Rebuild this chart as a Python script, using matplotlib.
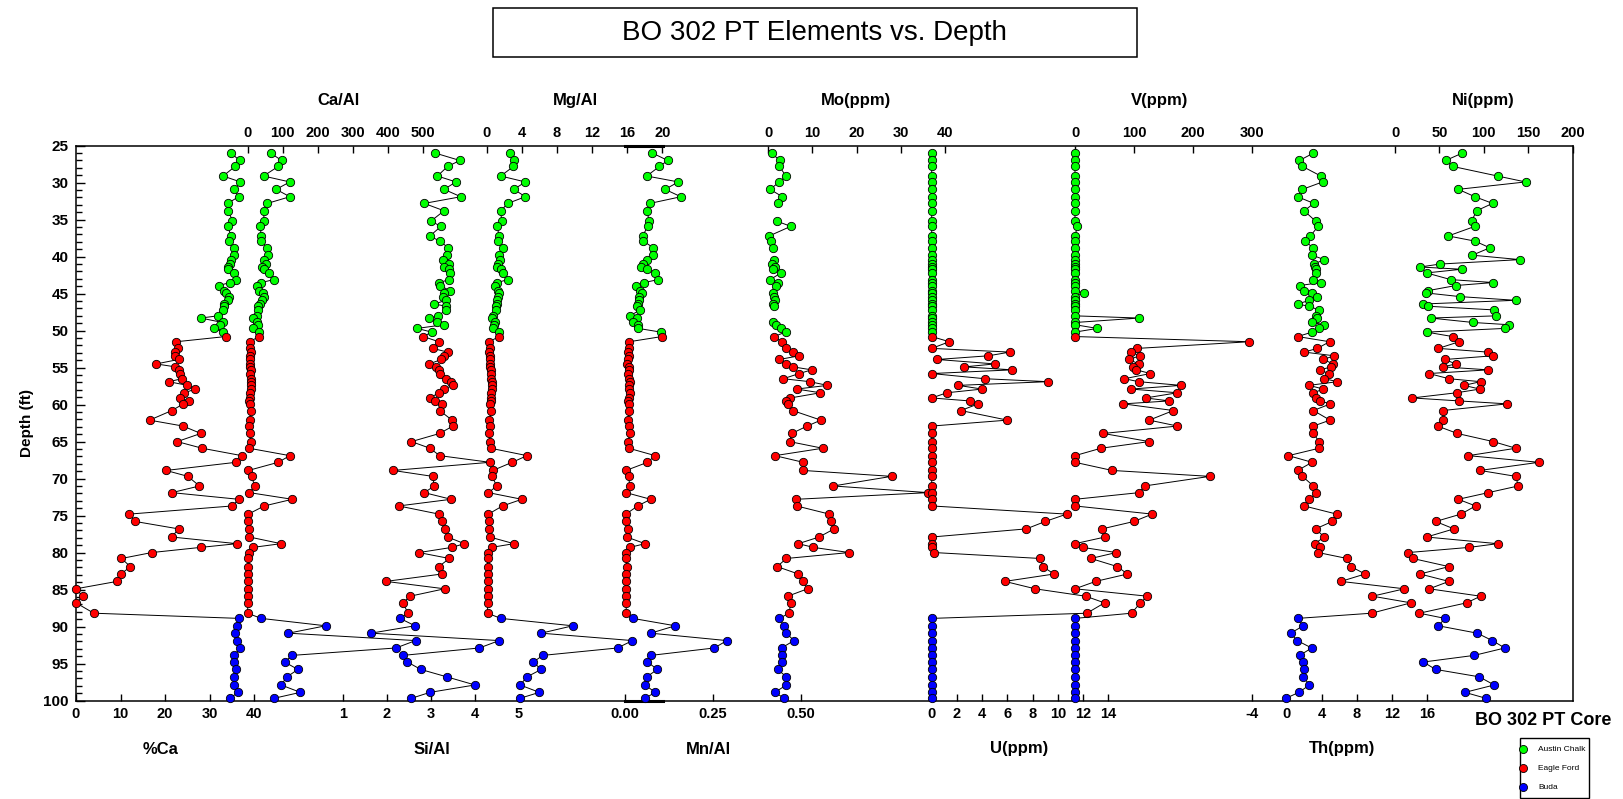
import numpy as np
import matplotlib
matplotlib.use("Agg")
import matplotlib.pyplot as plt
from matplotlib.patches import Rectangle
from matplotlib.lines import Line2D
from matplotlib.ticker import MultipleLocator, FixedLocator, FormatStrFormatter

plt.rcParams['font.family'] = ['Liberation Sans', 'DejaVu Sans']
plt.rcParams['font.weight'] = 'bold'

nan = np.nan

# ---------------------------------------------------------------- sample depths (ft)
depth_austin = [26.0, 27.0, 27.8, 29.1, 29.9, 30.9, 31.9, 32.8, 33.8, 35.2, 35.9, 37.2,
                37.9, 38.8, 39.8, 40.4, 41.0, 41.4, 41.7, 42.2, 43.1, 43.5, 43.9, 44.6,
                44.9, 45.4, 45.9, 46.4, 46.7, 47.2, 48.0, 48.3, 48.9, 49.2, 49.7, 50.2]
depth_eagle = [50.8, 51.5, 52.4, 52.9, 53.4, 53.9, 54.5, 54.9, 55.3, 55.8, 56.5, 56.9,
               57.4, 57.9, 58.4, 59.1, 59.5, 59.9, 60.8, 62.1, 62.9, 63.9, 65.0, 65.9,
               66.9, 67.8, 68.9, 69.7, 71.0, 71.9, 72.8, 73.7, 74.8, 75.8, 76.8, 77.9,
               78.8, 79.3, 80.0, 80.8, 81.9, 82.9, 83.9, 84.9, 85.9, 86.8, 88.2]
depth_buda = [88.9, 89.9, 90.9, 91.9, 92.9, 93.9, 94.8, 95.8, 96.8, 97.9, 98.9, 99.7]

# ---------------------------------------------------------------- %Ca
ca_pct_austin = [34.8, 36.7, 35.7, 33.0, 36.9, 35.5, 36.5, 34.0, 34.2, 35.1, 34.0, 34.8,
                 34.3, 35.4, 35.5, 34.8, 34.6, 34.2, 34.0, 35.4, 36.0, 34.6, 32.0, 33.1,
                 33.7, 34.3, 34.2, 33.3, 33.1, 32.9, 31.8, 28.0, 32.9, 32.4, 31.0, 33.0]
ca_pct_eagle = [33.6, 22.5, 22.8, 22.1, 22.3, 23.0, 18.0, 22.3, 23.2, 23.4, 23.8, 20.8,
                25.0, 26.8, 24.3, 23.4, 25.3, 24.1, 21.5, 16.5, 24.0, 28.0, 22.7, 28.3,
                37.2, 35.9, 20.2, 25.1, 27.7, 21.5, 36.5, 35.1, 12.0, 13.3, 23.0, 21.5,
                36.1, 28.0, 17.0, 10.2, 12.2, 10.1, 9.2, 0.0, 1.5, 0.0, 4.0]
ca_pct_buda = [36.6, 36.1, 35.7, 36.1, 36.9, 35.4, 35.4, 35.9, 35.5, 35.4, 36.3, 34.6]

# ---------------------------------------------------------------- Ca/Al
ca_al_austin = [65, 97, 87, 45, 120, 81, 120, 56, 45, 47, 35, 39, 37, 56, 58, 46, 51, 40,
                45, 62, 75, 38, 26, 33, 43, 47, 42, 35, 30, 30, 26, 16, 26, 30, 16, 33]
ca_al_eagle = [32, 6, 7, 8, 7, 6, 7, 6, 8, 7, 9, 10, 9, 8, 7, 6, 5, 7, 8, 6, 5, 6, 8, 4,
               120, 87, 2, 11, 20, 5, 127, 47, 2, 0, 5, 5, 95, 15, 3, 2, 2, 1, 1, 0, 1, 0, 0]
ca_al_buda = [38, 222, 116, 478, 422, 127, 105, 143, 112, 95, 150, 75]

# ---------------------------------------------------------------- Si/Al
si_al_austin = [3.10, 3.66, 3.38, 3.15, 3.57, 3.30, 3.68, 2.85, 3.30, 3.00, 3.23, 2.98,
                3.20, 3.40, 3.36, 3.28, 3.42, 3.30, 3.42, 3.44, 3.42, 3.19, 3.20, 3.44,
                3.30, 3.27, 3.34, 3.08, 3.34, 3.34, 3.17, 2.95, 3.15, 3.30, 2.69, 3.02]
si_al_eagle = [2.83, 3.18, 3.04, 3.38, 3.30, 3.24, 2.96, 3.11, 3.18, 3.20, 3.35, 3.45,
               3.50, 3.30, 3.18, 2.98, 3.10, 3.25, 3.20, 3.48, 3.50, 3.20, 2.56, 2.98,
               3.20, 4.34, 2.14, 3.04, 3.08, 2.85, 3.46, 2.27, 3.18, 3.25, 3.33, 3.38,
               3.76, 3.48, 2.73, 3.42, 3.18, 3.25, 1.98, 3.31, 2.53, 2.37, 2.48]
si_al_buda = [2.30, 2.64, 1.64, 4.55, 4.10, 2.37, 2.47, 2.77, 3.36, 4.00, 2.98, 2.56]

# ---------------------------------------------------------------- Mg/Al
mg_al_austin = [2.6, 3.1, 3.05, 1.6, 4.4, 3.1, 4.4, 2.4, 1.6, 1.7, 1.2, 1.4, 1.3, 1.9,
                1.4, 1.5, 1.3, 1.2, 1.6, 1.9, 2.4, 1.2, 0.95, 1.3, 1.4, 1.3, 1.15, 1.2,
                1.1, 1.05, 0.75, 0.55, 0.95, 0.8, 0.7, 1.45]
mg_al_eagle = [1.4, 0.3, 0.35, 0.3, 0.4, 0.35, 0.4, 0.35, 0.5, 0.45, 0.5, 0.55, 0.6, 0.6,
               0.5, 0.45, 0.5, 0.4, 0.5, 0.3, 0.4, 0.3, 0.35, 0.45, 4.6, 2.9, 0.7, 0.6,
               1.15, 0.2, 4.0, 1.8, 0.2, 0.3, 0.3, 0.35, 3.1, 0.55, 0.2, 0.1, 0.1, 0.1,
               0.1, 0.1, 0.1, 0.1, 0.1]
mg_al_buda = [1.6, 9.8, 6.2, 16.6, 14.9, 6.4, 5.3, 6.2, 4.6, 3.8, 6.0, 3.8]

# ---------------------------------------------------------------- Mn/Al
mn_al_austin = [0.078, 0.122, 0.098, 0.062, 0.152, 0.114, 0.159, 0.071, 0.062, 0.069,
                0.065, 0.050, 0.052, 0.081, 0.080, 0.062, 0.050, 0.045, 0.062, 0.086,
                0.095, 0.054, 0.031, 0.043, 0.048, 0.041, 0.040, 0.036, 0.033, 0.043,
                0.014, 0.033, 0.024, 0.038, 0.038, 0.102]
mn_al_eagle = [0.105, 0.012, 0.010, 0.008, 0.011, 0.009, 0.007, 0.010, 0.012, 0.009,
               0.011, 0.013, 0.010, 0.012, 0.014, 0.011, 0.009, 0.010, 0.012, 0.008,
               0.010, 0.013, 0.009, 0.011, 0.086, 0.064, 0.003, 0.010, 0.014, 0.003,
               0.073, 0.036, 0.003, 0.004, 0.008, 0.005, 0.057, 0.014, 0.004, 0.003,
               0.005, 0.004, 0.003, 0.004, 0.003, 0.004, 0.003]
mn_al_buda = [0.022, 0.143, 0.073, 0.290, 0.254, 0.074, 0.064, 0.092, 0.062, 0.057,
              0.086, 0.057]

# ---------------------------------------------------------------- Mo (ppm)
mo_austin = [0.75, 2.6, 2.5, 4.0, 2.5, 0.4, 3.2, 2.3, nan, 1.9, 5.1, 0.2, 0.5, 1.0, nan,
             1.3, 0.9, 1.5, 1.1, 2.9, 0.4, 2.3, 1.7, nan, 1.0, 1.2, 1.5, 1.1, 1.3, nan,
             nan, nan, 1.0, 1.8, 2.8, 3.9]
mo_eagle = [1.3, 3.0, 4.0, 5.5, 7.0, 2.5, 4.1, 5.6, 9.8, 7.0, 3.4, 9.4, 13.4, 6.4, 11.8,
            5.0, 4.1, 4.5, 5.5, 11.9, 8.8, 5.3, 4.8, 12.3, 1.5, 7.9, 7.9, 27.9, 14.7,
            36.2, 6.3, 6.4, 13.8, 14.1, 14.9, 11.5, 6.8, 10.2, 18.3, 4.1, 2.0, 6.8, 7.9,
            8.9, 4.4, 5.1, 4.7]
mo_buda = [2.5, 3.5, 4.1, 5.8, 3.0, 3.0, 3.2, 2.1, 4.1, 4.1, 1.5, 3.6]

# ---------------------------------------------------------------- U (ppm)
u_austin = [0.0] * 36
u_eagle = [0, 1.4, 0, 6.2, 4.5, 0.45, 5.0, 2.6, 6.4, 0, 4.2, 9.2, 2.1, 4.0, 1.2, 0, 3.0,
           3.7, 2.3, 6.0, 0, 0, 0, 0, 0, 0, 0, 0, 0, 0, 0, 0, 10.7, 9.0, 7.5, 0, 0, 0,
           0.2, 8.6, 8.8, 9.7, 5.8, 8.2, 12.2, 13.7, 12.3]
u_buda = [0.0] * 12

# ---------------------------------------------------------------- V (ppm)
v_austin = [0, 0, 0, 0, 0, 0, 0, 0, 0, 0, 4, 0, 0, 0, 0, 0, 0, 0, 0, 0, 0, 0, 0, 0,
            15, 0, 0, 0, 0, 0, 0, 109, 0, 0, 38, 0]
v_eagle = [0, 296, 106, 95, 110, 92, 108, 99, 104, 128, 84, 108, 180, 95, 174, 120, 160,
           82, 167, 126, 174, 48, 126, 44, 0, 0, 63, 229, 118, 109, 0, 0, 131, 100, 46,
           51, 0, 13, 70, 27, 72, 89, 35, 0, 123, 111, 96]
v_buda = [0.0] * 12

# ---------------------------------------------------------------- Th (ppm)
th_austin = [3.05, 1.45, 1.8, 3.9, 4.1, 1.8, 1.25, 3.1, 2.0, 3.3, 3.6, 2.7, 2.1, 3.0,
             2.9, 4.3, 3.1, 3.2, 3.3, 3.3, 3.05, 3.9, 1.5, 2.0, 2.9, 3.5, 2.6, 1.25,
             2.5, 3.7, 3.35, 3.5, 2.9, 4.3, 3.7, 2.9]
th_eagle = [1.25, 4.9, 3.5, 2.0, 5.4, 4.2, 5.3, 5.1, 3.8, 4.8, 4.3, 5.8, 2.55, 4.2, 3.05,
            3.4, 3.8, 5.0, 3.05, 4.95, 3.05, 3.05, 3.7, 3.7, 0.2, 2.9, 1.25, 1.8, 3.05,
            3.4, 2.6, 2.0, 5.7, 5.2, 3.3, 4.3, 3.2, 3.8, 3.6, 6.9, 7.35, 8.95, 6.2,
            13.45, 9.8, 14.2, 9.7]
th_buda = [1.25, 1.9, 0.45, 1.2, 2.85, 1.5, 1.9, 2.0, 1.9, 2.6, 1.4, -0.1]

# ---------------------------------------------------------------- Ni (ppm)
ni_austin = [75.8, 57.0, 64.9, 115.6, 147.1, 71.3, 90.1, 109.9, 91.9, 86.3, 90.1, 60.0,
             90.1, 106.9, 87.1, 140.7, 50.7, 28.1, 75.0, 35.6, 62.7, 110.7, 68.7, 36.8,
             34.9, 73.2, 135.8, 31.9, 36.8, 111.8, 113.7, 40.2, 88.2, 128.3, 123.8, 35.6]
ni_eagle = [64.9, 72.4, 48.8, 104.3, 110.7, 56.3, 68.3, 54.4, 105.1, 38.3, 60.8, 96.4,
            77.7, 95.7, 69.4, 19.5, 72.0, 126.5, 53.7, 54.4, 48.0, 70.2, 110.7, 136.2,
            82.6, 162.1, 95.7, 136.2, 138.8, 105.1, 71.3, 90.8, 74.3, 45.8, 66.4, 35.6,
            115.6, 83.7, 15.0, 19.9, 60.8, 28.1, 60.8, 38.6, 96.4, 80.7, 27.4]
ni_buda = [56.3, 48.8, 92.7, 109.6, 123.8, 89.3, 31.9, 45.8, 94.9, 111.8, 78.8, 102.4]

formation_names = ['Austin Chalk', 'Eagle Ford', 'Buda']
formation_colors = ['#00ff00', '#ff0000', '#0000ff']

# ---------------------------------------------------------------- layout (pixels)
W_PX, H_PX = 1623, 799
PLOT_L, PLOT_R, PLOT_T, PLOT_B = 76.0, 1572.5, 145.7, 700.5


def fx(px):
    return px / W_PX


def fy(py):
    return 1.0 - py / H_PX


def axis_range(v_a, px_a, v_b, px_b):
    """x-limits that put value v_a at pixel px_a and v_b at px_b."""
    s = (px_b - px_a) / (v_b - v_a)
    lo = v_a - (px_a - PLOT_L) / s
    hi = lo + (PLOT_R - PLOT_L) / s
    return lo, hi


tracks = [
    dict(title='%Ca', side='bottom', series=(ca_pct_austin, ca_pct_eagle, ca_pct_buda),
         anchor=(0, 76.0, 40, 254.3), ticks=[0, 10, 20, 30, 40], fmt='%d', tx=161),
    dict(title='Ca/Al', side='top', series=(ca_al_austin, ca_al_eagle, ca_al_buda),
         anchor=(0, 247.7, 500, 423.3), ticks=[0, 100, 200, 300, 400, 500], fmt='%d', tx=338),
    dict(title='Si/Al', side='bottom', series=(si_al_austin, si_al_eagle, si_al_buda),
         anchor=(1, 342.7, 5, 519.0), ticks=[1, 2, 3, 4, 5], fmt='%d', tx=432),
    dict(title='Mg/Al', side='top', series=(mg_al_austin, mg_al_eagle, mg_al_buda),
         anchor=(0, 486.7, 20, 662.3), ticks=[0, 4, 8, 12, 16, 20], fmt='%d', tx=575),
    dict(title='Mn/Al', side='bottom', series=(mn_al_austin, mn_al_eagle, mn_al_buda),
         anchor=(0, 625.0, 0.5, 800.7), ticks=[0.0, 0.25, 0.5], fmt='%.2f', tx=708,
         stub=(0.0, 0.107)),
    dict(title='Mo(ppm)', side='top', series=(mo_austin, mo_eagle, mo_buda),
         anchor=(0, 768.3, 40, 945.0), ticks=[0, 10, 20, 30, 40], fmt='%d', tx=856),
    dict(title='U(ppm)', side='bottom', series=(u_austin, u_eagle, u_buda),
         anchor=(0, 931.7, 14, 1108.3), ticks=list(range(0, 15, 2)), fmt='%d', tx=1019),
    dict(title='V(ppm)', side='top', series=(v_austin, v_eagle, v_buda),
         anchor=(0, 1075.0, 300, 1251.7), ticks=[0, 100, 200, 300], fmt='%d', tx=1160),
    dict(title='Th(ppm)', side='bottom', series=(th_austin, th_eagle, th_buda),
         anchor=(-4, 1251.7, 16, 1426.7), ticks=[-4, 0, 4, 8, 12, 16], fmt='%d', tx=1342),
    dict(title='Ni(ppm)', side='top', series=(ni_austin, ni_eagle, ni_buda),
         anchor=(0, 1395.0, 200, 1572.5), ticks=[0, 50, 100, 150, 200], fmt='%d', tx=1483),
]

depths = (depth_austin, depth_eagle, depth_buda)
all_depth = np.concatenate([np.asarray(d, float) for d in depths])

fig = plt.figure(figsize=(W_PX / 100, H_PX / 100), dpi=100)
rect = [fx(PLOT_L), fy(PLOT_B), fx(PLOT_R) - fx(PLOT_L), fy(PLOT_T) - fy(PLOT_B)]

# frame with the depth axis
base = fig.add_axes(rect)
base.set_ylim(100, 25)
base.set_xticks([])
base.yaxis.set_major_locator(MultipleLocator(5))
base.yaxis.set_minor_locator(MultipleLocator(1))
base.tick_params(axis='y', which='major', direction='in', length=6.5, width=1.0,
                 labelsize=11, pad=5.5)
base.tick_params(axis='y', which='minor', direction='in', length=4.0, width=1.0)
for sp in base.spines.values():
    sp.set_linewidth(1.1)

fig.text(fx(27), fy(423), 'Depth (ft)', rotation=90, ha='center', va='center',
         fontsize=11, fontweight='bold')

# one transparent axes per log track, all sharing the depth range
for tr in tracks:
    ax = fig.add_axes(rect, facecolor='none')
    ax.set_ylim(100, 25)
    ax.set_xlim(*axis_range(*tr['anchor']))
    ax.yaxis.set_visible(False)
    for name, sp in ax.spines.items():
        sp.set_visible(False)
    if 'stub' in tr:
        for name in ('top', 'bottom'):
            ax.spines[name].set_visible(True)
            ax.spines[name].set_bounds(*tr['stub'])
            ax.spines[name].set_linewidth(2.2)
    side = tr['side']
    ax.xaxis.set_ticks_position(side)
    ax.xaxis.set_major_locator(FixedLocator(tr['ticks']))
    ax.xaxis.set_major_formatter(FormatStrFormatter(tr['fmt']))
    ax.tick_params(axis='x', direction='in', length=5.0, width=1.0, labelsize=10.5,
                   pad=4.0 if side == 'top' else 5.0,
                   top=(side == 'top'), labeltop=(side == 'top'),
                   bottom=(side == 'bottom'), labelbottom=(side == 'bottom'))

    values = np.concatenate([np.asarray(s, float) for s in tr['series']])
    ax.plot(values, all_depth, color='black', lw=0.7, zorder=2, clip_on=False)
    for vals, dep, col in zip(tr['series'], depths, formation_colors):
        ax.plot(vals, dep, linestyle='none', marker='o', ms=6.0, mfc=col, mec='black',
                mew=0.6, zorder=3, clip_on=False)

    ty = 100.5 if side == 'top' else 749
    fig.text(fx(tr['tx']), fy(ty), tr['title'], ha='center', va='center',
             fontsize=12, fontweight='bold')

# chart title in its box
fig.patches.append(Rectangle((fx(492.7), fy(56.9)), fx(1136.5) - fx(492.7),
                             fy(8.3) - fy(56.9), transform=fig.transFigure,
                             fill=False, edgecolor='black', lw=1.1))
fig.text(fx(814.6), fy(32.6), 'BO 302 PT Elements vs. Depth', ha='center', va='center',
         fontsize=20, fontweight='normal')

fig.text(fx(1543.5), fy(720.7), 'BO 302 PT Core', ha='center', va='center',
         fontsize=13, fontweight='bold')

# formation key
fig.patches.append(Rectangle((fx(1520), fy(798.3)), fx(1589.3) - fx(1520),
                             fy(737.7) - fy(798.3), transform=fig.transFigure,
                             fill=False, edgecolor='black', lw=1.0))
for name, col, ky in zip(formation_names, formation_colors, (749.3, 768.3, 787.3)):
    fig.add_artist(Line2D([fx(1523.3)], [fy(ky)], transform=fig.transFigure,
                          linestyle='none', marker='o', ms=5.8, mfc=col, mec='black',
                          mew=0.6))
    fig.text(fx(1538.3), fy(ky), name, ha='left', va='center', fontsize=6,
             fontweight='normal')

fig.savefig('out.png', dpi=100)
